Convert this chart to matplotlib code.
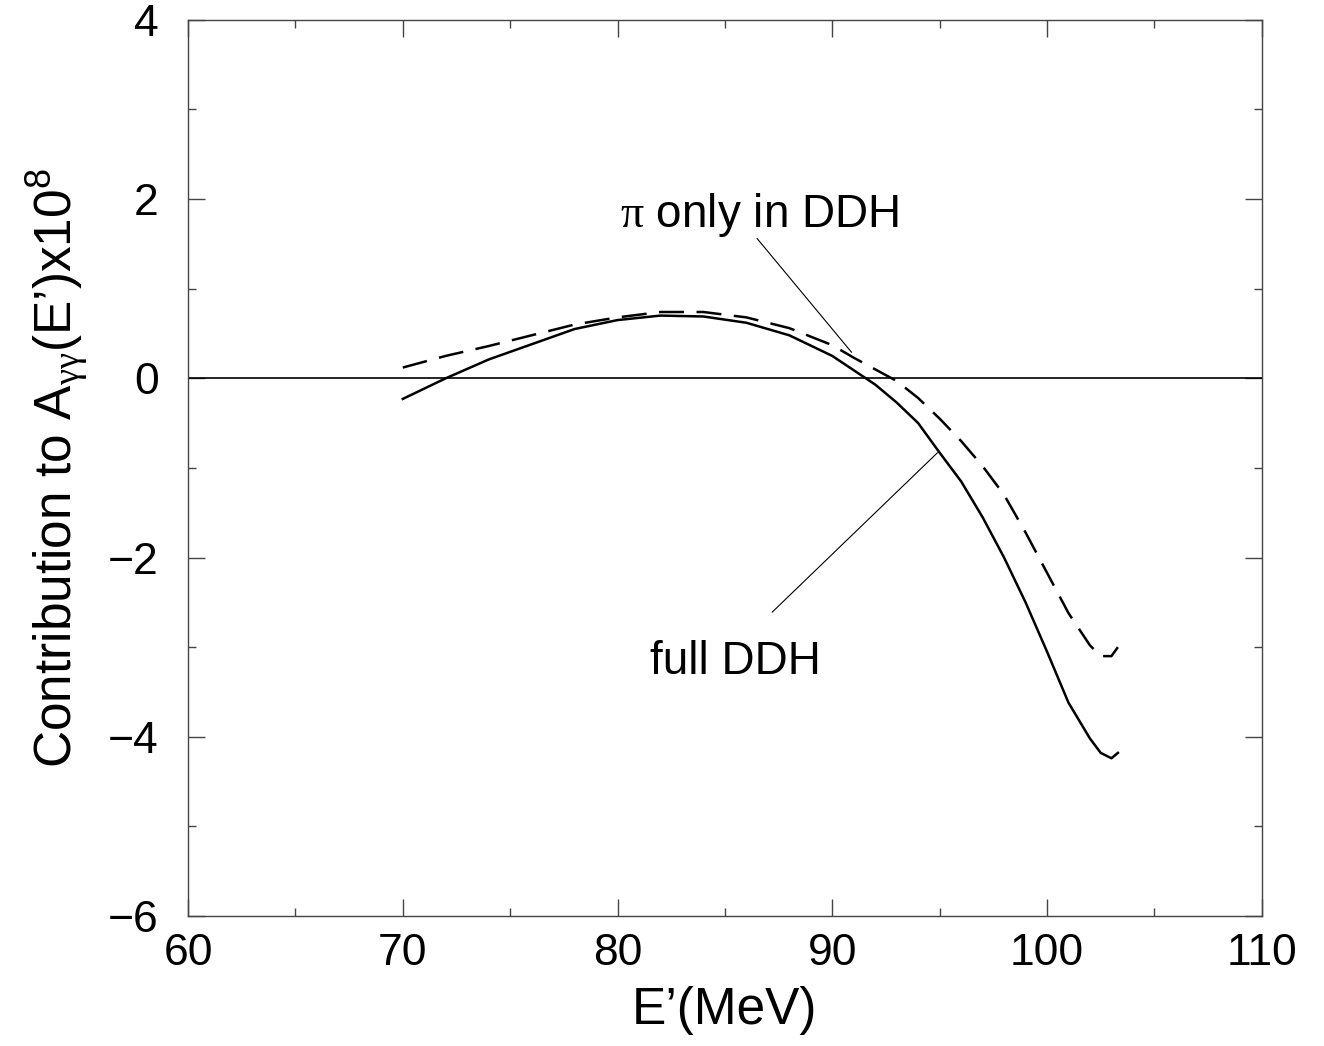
import matplotlib
matplotlib.use("Agg")
import matplotlib.pyplot as plt
from matplotlib.ticker import MultipleLocator

plt.rcParams['font.family'] = ['Liberation Sans', 'DejaVu Sans']
plt.rcParams['mathtext.fontset'] = 'custom'
plt.rcParams['mathtext.rm'] = 'Liberation Serif'
plt.rcParams['mathtext.sf'] = 'Liberation Sans'
plt.rcParams['mathtext.it'] = 'Liberation Sans:italic'

# full DDH (solid)
e_full = [70, 72, 74, 76, 78, 80, 82, 84, 86, 88, 90, 92, 93, 94, 95, 96, 97,
          98, 99, 100, 101, 102, 102.5, 103, 103.3]
a_full = [-0.23, 0.0, 0.21, 0.38, 0.55, 0.65, 0.70, 0.69, 0.62, 0.48, 0.25,
          -0.07, -0.27, -0.50, -0.83, -1.15, -1.55, -2.0, -2.5, -3.05, -3.62,
          -4.02, -4.18, -4.24, -4.18]

# pi only in DDH (dashed)
e_pi = [70, 72, 74, 76, 78, 80, 82, 84, 86, 88, 90, 91, 92, 93, 94, 95, 96,
        97, 98, 99, 100, 101, 102, 102.5, 103, 103.3]
a_pi = [0.12, 0.25, 0.36, 0.48, 0.60, 0.68, 0.74, 0.74, 0.68, 0.56, 0.37,
        0.23, 0.10, -0.03, -0.22, -0.45, -0.70, -0.98, -1.30, -1.72, -2.17,
        -2.62, -2.98, -3.10, -3.10, -3.0]

fig = plt.figure(figsize=(13.24, 10.46), dpi=100)
ax = fig.add_axes([0.142, 0.1243, 0.811, 0.8567])

ax.plot(e_full, a_full, color='black', lw=1.8)
ax.plot(e_pi, a_pi, color='black', lw=1.8, dashes=(10, 5))
ax.axhline(0, color='black', lw=1.2)

# labels and their pointer lines
line_kw = dict(arrowstyle='-', color='black', lw=0.8, shrinkA=0, shrinkB=0)
ax.annotate('', xy=(90.9, 0.29), xytext=(86.5, 1.56), arrowprops=line_kw)
ax.annotate('', xy=(94.9, -0.83), xytext=(87.2, -2.61), arrowprops=line_kw)
ax.text(86.6, 1.82, r'$\mathrm{\pi}$ only in DDH', fontsize=33,
        ha='center', va='center')
ax.text(85.5, -3.17, 'full DDH', fontsize=33, ha='center', va='center')

ax.set_xlim(60, 110)
ax.set_ylim(-6, 4)
ax.xaxis.set_major_locator(MultipleLocator(10))
ax.xaxis.set_minor_locator(MultipleLocator(5))
ax.yaxis.set_major_locator(MultipleLocator(2))
ax.yaxis.set_minor_locator(MultipleLocator(1))
ax.tick_params(which='both', direction='in', top=True, right=True,
               labelsize=32, width=1, color='#444444')
ax.tick_params(which='major', length=12)
ax.tick_params(axis='x', which='major', pad=12)
ax.tick_params(axis='y', which='major', pad=21)
ax.tick_params(which='minor', length=6)
for s in ax.spines.values():
    s.set_linewidth(1)
    s.set_color('#444444')

ax.set_xlabel('E\u2019(MeV)', fontsize=37, labelpad=9)
ax.set_ylabel(r'Contribution to A$_{\mathrm{\gamma\gamma}}$(E' + '\u2019' + r')x10$^{\mathsf{8}}$',
              fontsize=37, labelpad=12)

fig.savefig('out.png', dpi=100)
